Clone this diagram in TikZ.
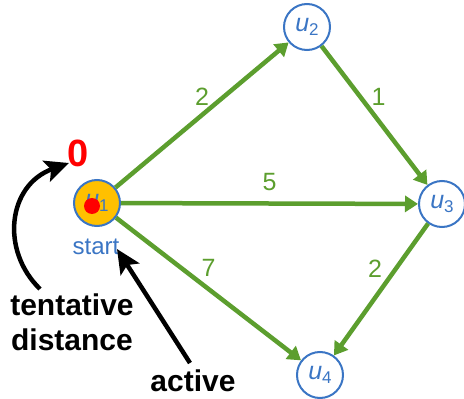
\documentclass[tikz,border=0pt]{standalone}
\usepackage{fontspec}
\setmainfont{Liberation Sans}
\usetikzlibrary{arrows.meta}
\definecolor{nblue}{HTML}{3A75C4}
\definecolor{egreen}{HTML}{5C9E2E}
\definecolor{gold}{HTML}{FFC000}
\newcommand{\vlab}[1]{\textit{u}\raisebox{-0.3ex}{\fontsize{17}{17}\selectfont #1}}
\begin{document}
\begin{tikzpicture}[x=1pt,y=-1pt,
  vertex/.style={circle, draw=nblue, line width=2pt, minimum size=46pt, inner sep=0pt, text=nblue, font=\fontsize{25}{25}\selectfont},
  edge/.style={egreen, line width=4.5pt, -{Triangle[length=13pt,width=16pt]}},
  wlabel/.style={text=egreen, font=\fontsize{25}{25}\selectfont},
  note/.style={font=\fontsize{30}{35}\selectfont\bfseries, align=center},
  pointer/.style={line width=4.5pt, -{Stealth[length=24pt,width=22pt,inset=5pt]}}]
\useasboundingbox (0,0) rectangle (464,399);
\node[vertex, fill=gold] (u1) at (97,203) {\vlab{1}};
\node[circle, fill=red, minimum size=16pt, inner sep=0pt] (dot) at (92,206) {};
\node[vertex] (u2) at (307,27) {\vlab{2}};
\node[vertex] (u3) at (442,204) {\vlab{3}};
\node[vertex] (u4) at (320,375) {\vlab{4}};
\draw[edge] (u1) -- node[wlabel, midway, yshift=18pt] {2} (u2);
\draw[edge] (u2) -- node[wlabel, midway, yshift=19pt, xshift=4pt] {1} (u3);
\draw[edge] (u1) -- node[wlabel, midway, yshift=21pt] {5} (u3);
\draw[edge] (u1) -- node[wlabel, midway, yshift=21pt] {7} (u4);
\draw[edge] (u3) -- node[wlabel, midway, yshift=21pt, xshift=-6pt] {2} (u4);
\node[text=red, font=\fontsize{38}{38}\selectfont\bfseries] (zero) at (78,153) {0};
\node[text=nblue, font=\fontsize{24}{24}\selectfont] (start) at (96,247) {start};
\node[note] (td) at (72,322) {tentative\\distance};
\node[note] (act) at (193,381) {active};
\coordinate (tdtail) at (40,289);
\coordinate (tdhead) at (69,163);
\coordinate (acttail) at (190,363);
\coordinate (acthead) at (117,249);
\draw[pointer] (tdtail) .. controls (0,250) and (8,185) .. (tdhead);
\draw[pointer] (acttail) -- (acthead);
\end{tikzpicture}
\end{document}
